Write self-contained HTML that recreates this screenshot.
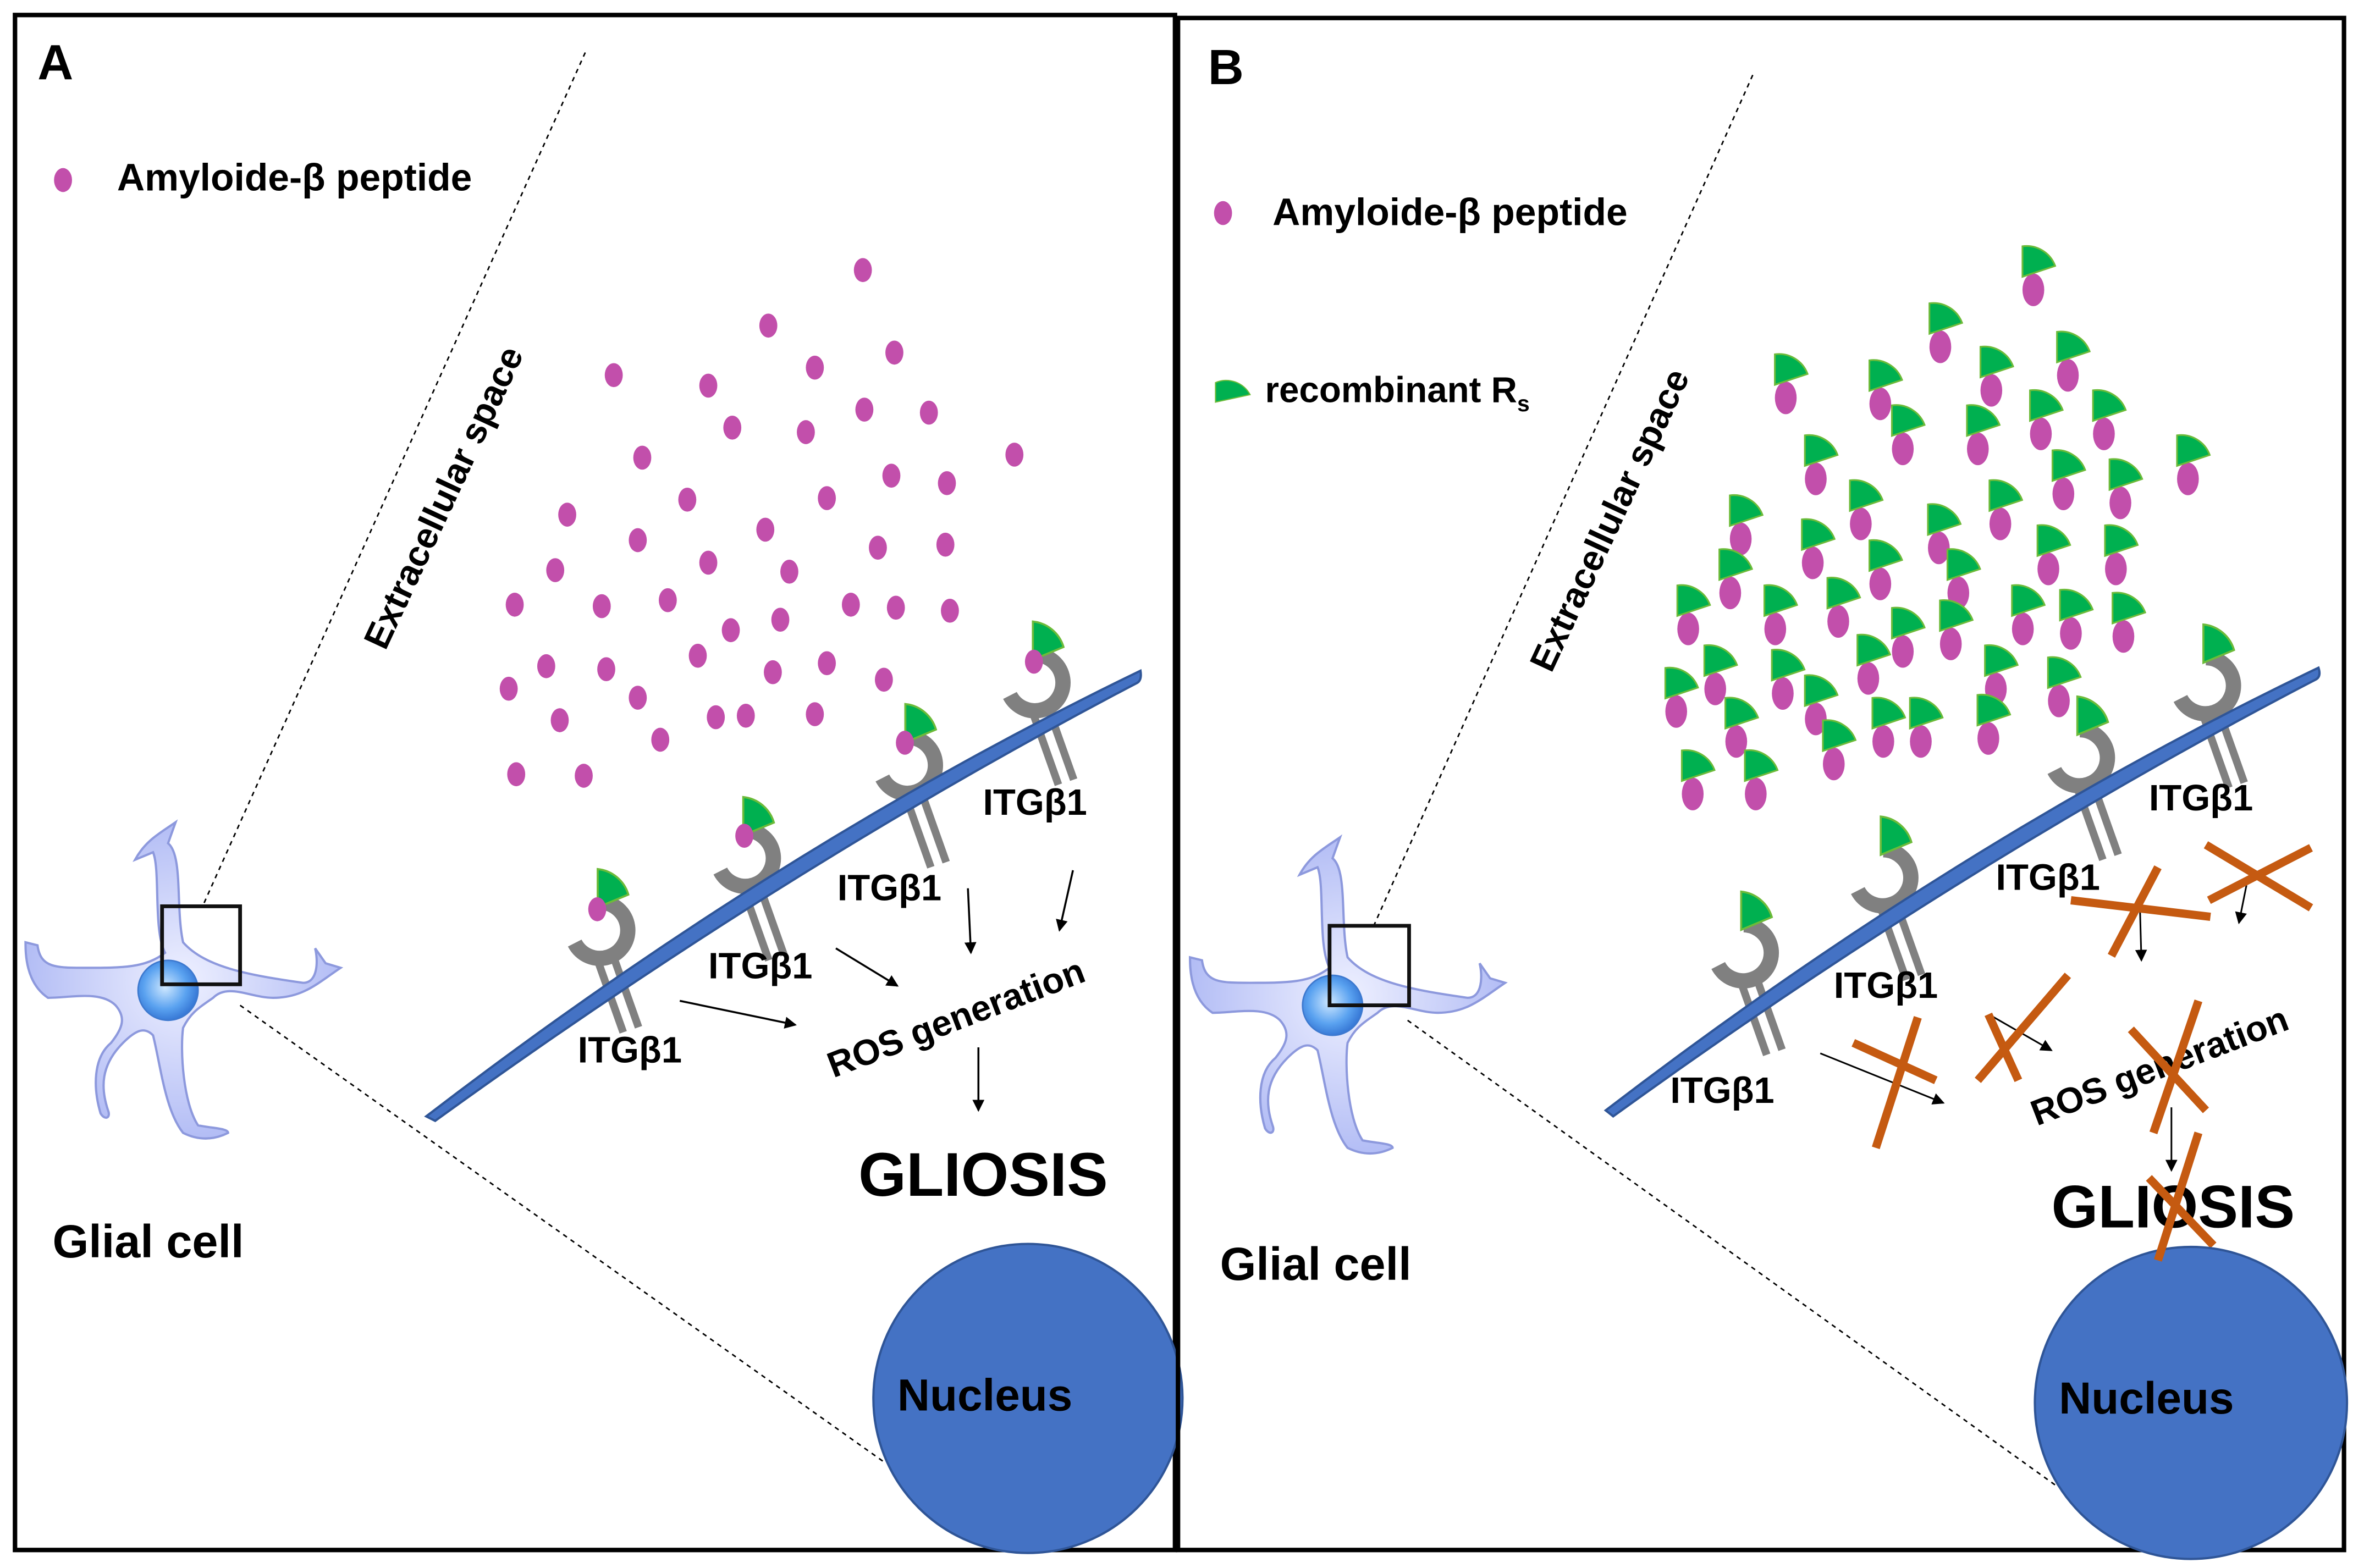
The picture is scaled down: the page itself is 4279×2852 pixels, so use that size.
<!DOCTYPE html>
<html><head><meta charset="utf-8"><style>
html,body{margin:0;padding:0;background:#fff;}
svg{display:block;}
text{font-family:"Liberation Sans",Arial,sans-serif;font-weight:bold;fill:#000;}
</style></head><body>
<svg width="4279" height="2852" viewBox="0 0 1568 1045" preserveAspectRatio="none" xmlns="http://www.w3.org/2000/svg">
<defs>
<radialGradient id="cellg" cx="0.5" cy="0.5" r="0.5">
<stop offset="0" stop-color="#eef0ff"/><stop offset="1" stop-color="#b3bdf5"/></radialGradient>
<radialGradient id="nucg" cx="0.45" cy="0.45" r="0.6">
<stop offset="0" stop-color="#cfe8ff"/><stop offset="0.6" stop-color="#5aa2f0"/><stop offset="1" stop-color="#2f6fd0"/></radialGradient>
<marker id="ah" markerWidth="8" markerHeight="8" refX="7" refY="4" orient="auto" markerUnits="userSpaceOnUse">
<path d="M0,0 L8,4 L0,8z" fill="#000"/></marker>
<g id="dot"><ellipse cx="0" cy="0" rx="6" ry="8" fill="#C24FAB"/></g>
<g id="cplx0"><ellipse cx="0" cy="7" rx="5" ry="7.5" fill="#C24FAB"/>
<path d="M-5,1 L-5,-13 A14,14 0 0 1 10,-4 z" fill="#00B050" stroke="#6dbb3a" stroke-width="0.8"/></g>
<g id="cplx"><use href="#cplx0" transform="scale(1.45)"/></g>
<g id="rec0">
<line x1="-2" y1="9" x2="9" y2="40" stroke="#808080" stroke-width="3"/>
<line x1="4" y1="7" x2="15" y2="38" stroke="#808080" stroke-width="3"/>
<path d="M0,-11 A11,11 0 1 1 -10,5" fill="none" stroke="#808080" stroke-width="6"/>
<path d="M-1,-9 L-1,-24 A14,14 0 0 1 11,-14 z" fill="#00B050" stroke="#6dbb3a" stroke-width="0.8"/>
</g>
<g id="rec"><use href="#rec0" transform="scale(1.7)"/></g>
<g id="glia">
<path d="M-2,-25 C-10,-40 -5,-80 -10,-92 L-22,-87 C-15,-100 -5,-105 5,-112 L0,-98 C10,-90 5,-55 10,-32
C25,-15 55,-10 90,-5 C100,-5 100,-20 98,-28 L105,-18 L115,-15 C100,-5 90,5 70,5 C55,5 40,-5 30,5
C20,12 15,15 10,25 C8,40 10,75 20,90 C30,92 40,92 40,95 C30,100 20,100 10,95 C-2,80 -5,50 -10,30
C-15,25 -20,25 -30,35 C-45,50 -45,65 -40,80 C-38,85 -42,87 -45,82 C-50,65 -50,45 -38,35 C-30,25 -28,18 -35,10
C-45,0 -65,5 -80,5 C-95,-5 -95,-25 -95,-32 L-87,-30 C-85,-15 -75,-15 -55,-15 C-30,-15 -15,-15 -2,-25z"
fill="url(#cellg)" stroke="#8d99dd" stroke-width="1.5"/>
<circle cx="0" cy="0" r="20" fill="url(#nucg)" stroke="#3d79cf" stroke-width="1"/>
</g>
</defs>
<rect x="0" y="0" width="1568" height="1045" fill="#fff"/>

<!-- Panel A -->
<rect x="10" y="10" width="773" height="1023" fill="none" stroke="#000" stroke-width="3"/>
<text x="25" y="53" font-size="33">A</text>
<use href="#dot" x="42" y="120"/>
<text x="78" y="127" font-size="25.5">Amyloide-β peptide</text>
<line x1="390" y1="35" x2="135" y2="604" stroke="#000" stroke-width="1" stroke-dasharray="3,3"/>
<line x1="160" y1="670" x2="590" y2="975" stroke="#000" stroke-width="1" stroke-dasharray="3,3"/>
<text transform="translate(303,335) rotate(-65)" font-size="24" text-anchor="middle">Extracellular space</text>
<use href="#glia" x="112" y="660"/>
<rect x="108" y="604" width="52" height="52" fill="none" stroke="#111" stroke-width="2.5"/>
<text x="35" y="838" font-size="31">Glial cell</text>
<g>
<use href="#dot" x="575" y="180"/><use href="#dot" x="512" y="217"/><use href="#dot" x="409" y="250"/><use href="#dot" x="543" y="245"/><use href="#dot" x="596" y="235"/><use href="#dot" x="472" y="257"/><use href="#dot" x="488" y="285"/><use href="#dot" x="576" y="273"/><use href="#dot" x="619" y="275"/><use href="#dot" x="537" y="288"/><use href="#dot" x="676" y="303"/><use href="#dot" x="428" y="305"/><use href="#dot" x="594" y="317"/><use href="#dot" x="631" y="322"/><use href="#dot" x="551" y="332"/><use href="#dot" x="458" y="333"/><use href="#dot" x="378" y="343"/><use href="#dot" x="510" y="353"/><use href="#dot" x="425" y="360"/><use href="#dot" x="585" y="365"/><use href="#dot" x="630" y="363"/><use href="#dot" x="370" y="380"/><use href="#dot" x="472" y="375"/><use href="#dot" x="526" y="381"/><use href="#dot" x="343" y="403"/><use href="#dot" x="401" y="404"/><use href="#dot" x="445" y="400"/><use href="#dot" x="567" y="403"/><use href="#dot" x="597" y="405"/><use href="#dot" x="633" y="407"/><use href="#dot" x="520" y="413"/><use href="#dot" x="487" y="420"/><use href="#dot" x="465" y="437"/><use href="#dot" x="364" y="444"/><use href="#dot" x="404" y="446"/><use href="#dot" x="551" y="442"/><use href="#dot" x="515" y="448"/><use href="#dot" x="589" y="453"/><use href="#dot" x="339" y="459"/><use href="#dot" x="425" y="465"/><use href="#dot" x="373" y="480"/><use href="#dot" x="477" y="478"/><use href="#dot" x="497" y="477"/><use href="#dot" x="543" y="476"/><use href="#dot" x="440" y="493"/><use href="#dot" x="344" y="516"/><use href="#dot" x="389" y="517"/>
</g>
<g>
<use href="#rec" x="400" y="620"/><use href="#dot" x="398" y="606"/>
<use href="#rec" x="497" y="572"/><use href="#dot" x="496" y="557"/>
<use href="#rec" x="605" y="510"/><use href="#dot" x="603" y="495"/>
<use href="#rec" x="690" y="455"/><use href="#dot" x="689" y="441"/>
</g>
<path d="M284,744 Q520,563 760,447 Q761,453 758,455 Q525,577 290,747z" fill="#4472C4" stroke="#2f5597" stroke-width="1.5"/>
<text x="385" y="708" font-size="24.5">ITGβ1</text>
<text x="472" y="652" font-size="24.5">ITGβ1</text>
<text x="558" y="600" font-size="24.5">ITGβ1</text>
<text x="655" y="543" font-size="24.5">ITGβ1</text>
<g stroke="#000" stroke-width="1.3" marker-end="url(#ah)">
<line x1="453" y1="667" x2="530" y2="683"/>
<line x1="557" y1="632" x2="598" y2="657"/>
<line x1="645" y1="592" x2="647" y2="635"/>
<line x1="715" y1="580" x2="706" y2="620"/>
<line x1="652" y1="698" x2="652" y2="740"/>
</g>
<text transform="translate(640,686) rotate(-21)" font-size="24" text-anchor="middle">ROS generation</text>
<text x="572" y="797" font-size="41">GLIOSIS</text>
<circle cx="685" cy="932" r="103" fill="#4472C4" stroke="#2f5597" stroke-width="1.5"/>
<text x="598" y="940" font-size="30">Nucleus</text>

<!-- Panel B -->
<rect x="785" y="12" width="777" height="1021" fill="none" stroke="#000" stroke-width="3"/>
<text x="805" y="56" font-size="33">B</text>
<use href="#dot" x="815" y="142"/>
<text x="848" y="150" font-size="25.5">Amyloide-β peptide</text>
<path d="M810,268 L810,255 A18,18 0 0 1 833,263 z" fill="#00B050" stroke="#6dbb3a" stroke-width="0.8"/>
<text x="843" y="268" font-size="24">recombinant R<tspan font-size="15" dy="6">s</tspan></text>
<line x1="1168" y1="50" x2="915" y2="618" stroke="#000" stroke-width="1" stroke-dasharray="3,3"/>
<line x1="938" y1="680" x2="1370" y2="990" stroke="#000" stroke-width="1" stroke-dasharray="3,3"/>
<text transform="translate(1080,350) rotate(-65)" font-size="24" text-anchor="middle">Extracellular space</text>
<use href="#glia" x="888" y="670"/>
<rect x="886" y="617" width="53" height="53" fill="none" stroke="#111" stroke-width="2.5"/>
<text x="813" y="853" font-size="31">Glial cell</text>
<g>
<use href="#cplx" x="1355" y="183"/><use href="#cplx" x="1293" y="221"/><use href="#cplx" x="1190" y="255"/><use href="#cplx" x="1327" y="250"/><use href="#cplx" x="1378" y="240"/><use href="#cplx" x="1253" y="259"/><use href="#cplx" x="1268" y="289"/><use href="#cplx" x="1318" y="289"/><use href="#cplx" x="1360" y="279"/><use href="#cplx" x="1402" y="279"/><use href="#cplx" x="1458" y="309"/><use href="#cplx" x="1210" y="309"/><use href="#cplx" x="1375" y="319"/><use href="#cplx" x="1413" y="325"/><use href="#cplx" x="1333" y="339"/><use href="#cplx" x="1240" y="339"/><use href="#cplx" x="1160" y="349"/><use href="#cplx" x="1292" y="355"/><use href="#cplx" x="1208" y="365"/><use href="#cplx" x="1365" y="369"/><use href="#cplx" x="1410" y="369"/><use href="#cplx" x="1153" y="385"/><use href="#cplx" x="1253" y="379"/><use href="#cplx" x="1305" y="385"/><use href="#cplx" x="1125" y="409"/><use href="#cplx" x="1183" y="409"/><use href="#cplx" x="1225" y="404"/><use href="#cplx" x="1348" y="409"/><use href="#cplx" x="1380" y="412"/><use href="#cplx" x="1415" y="414"/><use href="#cplx" x="1300" y="419"/><use href="#cplx" x="1268" y="424"/><use href="#cplx" x="1245" y="442"/><use href="#cplx" x="1143" y="449"/><use href="#cplx" x="1188" y="452"/><use href="#cplx" x="1330" y="449"/><use href="#cplx" x="1372" y="457"/><use href="#cplx" x="1117" y="464"/><use href="#cplx" x="1210" y="469"/><use href="#cplx" x="1157" y="484"/><use href="#cplx" x="1255" y="484"/><use href="#cplx" x="1280" y="484"/><use href="#cplx" x="1325" y="482"/><use href="#cplx" x="1222" y="499"/><use href="#cplx" x="1128" y="519"/><use href="#cplx" x="1170" y="519"/>
</g>
<g>
<use href="#rec" x="1162" y="635"/>
<use href="#rec" x="1255" y="585"/>
<use href="#rec" x="1386" y="505"/>
<use href="#rec" x="1470" y="457"/>
</g>
<path d="M1070,740 Q1305,560 1545,445 Q1547,451 1543,453 Q1310,574 1075,744z" fill="#4472C4" stroke="#2f5597" stroke-width="1.5"/>
<text x="1113" y="735" font-size="24.5">ITGβ1</text>
<text x="1222" y="665" font-size="24.5">ITGβ1</text>
<text x="1330" y="593" font-size="24.5">ITGβ1</text>
<text x="1432" y="540" font-size="24.5">ITGβ1</text>
<g stroke="#000" stroke-width="1.1" marker-end="url(#ah)">
<line x1="1213" y1="702" x2="1295" y2="735"/>
<line x1="1327" y1="677" x2="1367" y2="700"/>
<line x1="1426" y1="604" x2="1427" y2="640"/>
<line x1="1497" y1="590" x2="1492" y2="615"/>
<line x1="1447" y1="738" x2="1447" y2="780"/>
</g>
<text transform="translate(1442,718) rotate(-21)" font-size="24" text-anchor="middle">ROS generation</text>
<text x="1367" y="818" font-size="40">GLIOSIS</text>
<g stroke="#C55A11" stroke-width="5.5" fill="none">
<line x1="1380" y1="600" x2="1473" y2="611"/><line x1="1438" y1="578" x2="1407" y2="637"/>
<line x1="1472" y1="600" x2="1540" y2="565"/><line x1="1470" y1="563" x2="1540" y2="605"/>
<line x1="1235" y1="695" x2="1290" y2="720"/><line x1="1278" y1="678" x2="1250" y2="765"/>
<line x1="1325" y1="676" x2="1345" y2="720"/><line x1="1378" y1="650" x2="1318" y2="720"/>
<line x1="1420" y1="686" x2="1470" y2="740"/><line x1="1465" y1="667" x2="1435" y2="755"/>
<line x1="1432" y1="785" x2="1475" y2="830"/>
</g>
<circle cx="1460" cy="935" r="104" fill="#4472C4" stroke="#2f5597" stroke-width="1.5"/>
<text x="1372" y="942" font-size="30">Nucleus</text>
<g stroke="#C55A11" stroke-width="5.5"><line x1="1465" y1="755" x2="1438" y2="840"/></g>
</svg>
</body></html>
